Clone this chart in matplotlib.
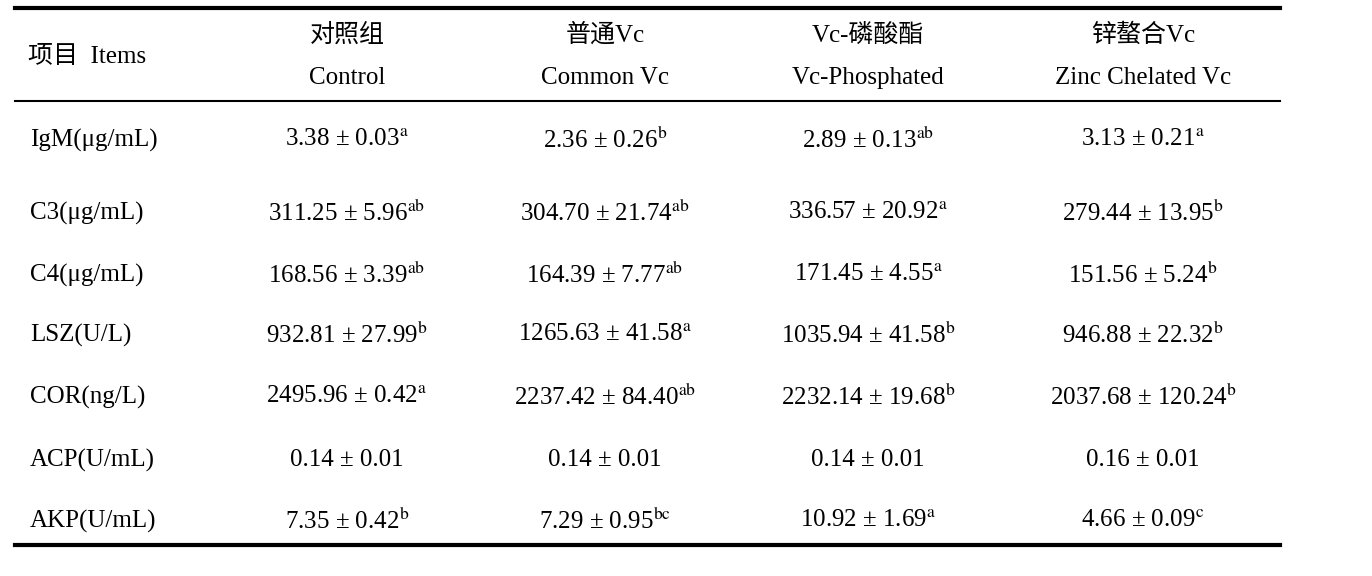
import matplotlib
matplotlib.use("Agg")
import matplotlib.pyplot as plt

plt.rcParams['font.family'] = ['Liberation Serif', 'Noto Sans CJK SC']
plt.rcParams['mathtext.fontset'] = 'stix'

items = ["IgM(μg/mL)", "C3(μg/mL)", "C4(μg/mL)", "LSZ(U/L)", "COR(ng/L)", "ACP(U/mL)", "AKP(U/mL)"]
head_cn = ["对照组", "普通Vc", "Vc-磷酸酯", "锌螯合Vc"]
head_en = ["Control", "Common Vc", "Vc-Phosphated", "Zinc Chelated Vc"]
control = ["3.38 ± 0.03", "311.25 ± 5.96", "168.56 ± 3.39", "932.81 ± 27.99", "2495.96 ± 0.42", "0.14 ± 0.01", "7.35 ± 0.42"]
control_sig = ["a", "ab", "ab", "b", "a", "", "b"]
common = ["2.36 ± 0.26", "304.70 ± 21.74", "164.39 ± 7.77", "1265.63 ± 41.58", "2237.42 ± 84.40", "0.14 ± 0.01", "7.29 ± 0.95"]
common_sig = ["b", "ab", "ab", "a", "ab", "", "bc"]
phos = ["2.89 ± 0.13", "336.57 ± 20.92", "171.45 ± 4.55", "1035.94 ± 41.58", "2232.14 ± 19.68", "0.14 ± 0.01", "10.92 ± 1.69"]
phos_sig = ["ab", "a", "a", "b", "b", "", "a"]
zinc = ["3.13 ± 0.21", "279.44 ± 13.95", "151.56 ± 5.24", "946.88 ± 22.32", "2037.68 ± 120.24", "0.16 ± 0.01", "4.66 ± 0.09"]
zinc_sig = ["a", "b", "b", "b", "b", "", "c"]

W, H = 1372, 576
fig = plt.figure(figsize=(W/100, H/100), dpi=100)
ax = fig.add_axes([0, 0, 1, 1])
ax.set_xlim(0, W); ax.set_ylim(H, 0); ax.axis('off')

ax.plot([15, 1280], [8, 8], color='black', lw=3)
ax.plot([15, 1280], [101, 101], color='black', lw=1.5)
ax.plot([15, 1280], [545, 545], color='black', lw=3)

fs = 18
ax.text(28, 57, "项目  Items", fontsize=fs, va='center', ha='left')
xs = [347, 605, 868, 1143]
for x, c, e in zip(xs, head_cn, head_en):
    ax.text(x, 35, c, fontsize=fs, ha='center', va='center')
    ax.text(x, 78, e, fontsize=fs, ha='center', va='center')

ys = [140, 213, 275, 335, 397, 460, 521]
cols = [(control, control_sig), (common, common_sig), (phos, phos_sig), (zinc, zinc_sig)]
for i, (it, y) in enumerate(zip(items, ys)):
    ax.text(30, y, it, fontsize=fs, ha='left', va='center')
    for x, (vals, sigs) in zip(xs, cols):
        s = vals[i] + (r"$^{\mathrm{%s}}$" % sigs[i] if sigs[i] else "")
        ax.text(x, y, s, fontsize=fs, ha='center', va='center')

fig.savefig("out.png", dpi=100, facecolor='white')
